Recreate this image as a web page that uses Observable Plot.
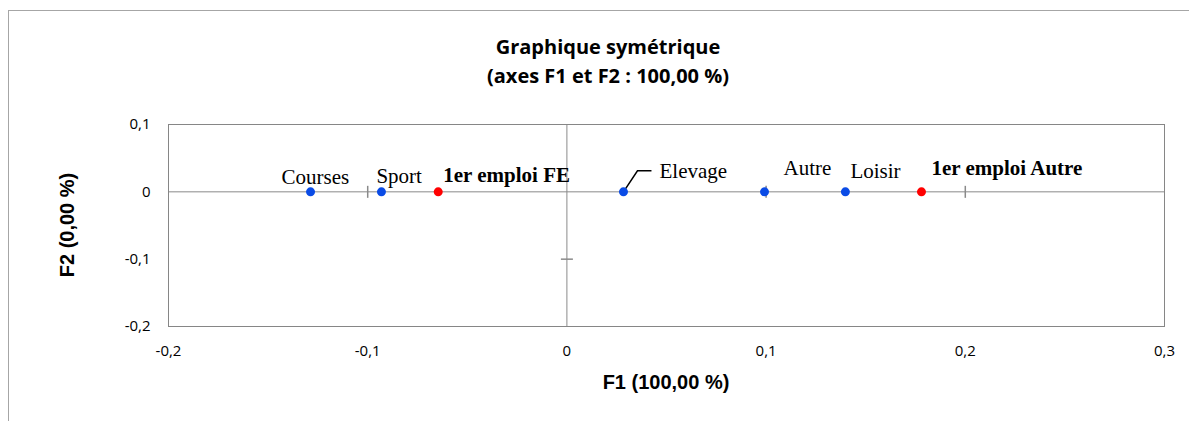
<!DOCTYPE html>
<html><head><meta charset="utf-8">
<script src="https://cdn.jsdelivr.net/npm/d3@7"></script>
<script src="https://cdn.jsdelivr.net/npm/@observablehq/plot@0.6"></script>
<style>
body{margin:0;background:#fff;}
#wrap{position:relative;width:1189px;height:421px;overflow:hidden;background:#fff;}
#outer{position:absolute;left:8px;top:10px;width:1300px;height:500px;border:1px solid #a6a6a6;}
#title{position:absolute;left:0;width:1216px;top:32px;text-align:center;font-family:"Open Sans",sans-serif;font-weight:bold;font-size:20px;line-height:29px;color:#000;}
#xlab{position:absolute;left:0;width:1332px;top:371px;text-align:center;font-family:"Liberation Sans",Arial,sans-serif;font-weight:bold;font-size:20px;color:#000;}
#ylab{position:absolute;left:67px;top:225px;transform:translate(-50%,-50%) rotate(-90deg);white-space:nowrap;font-family:"Liberation Sans",Arial,sans-serif;font-weight:bold;font-size:20px;color:#000;}
#chart{position:absolute;left:0;top:0;}
</style></head>
<body>
<div id="wrap">
  <div id="outer"></div>
  <div id="title">Graphique symétrique<br>(axes F1 et F2 : 100,00 %)</div>
  <div id="chart"></div>
  <div id="xlab">F1 (100,00 %)</div>
  <div id="ylab">F2 (0,00 %)</div>
</div>
<script>
// ---- data ----
const labels = ["Courses", "Sport", "1er emploi FE", "Elevage", "Autre", "Loisir", "1er emploi Autre"];
const f1 = [-0.1287, -0.0931, -0.0646, 0.0284, 0.0992, 0.1398, 0.1780];
const f2 = [0, 0, 0, 0, 0, 0, 0];
const kind = ["col", "col", "row", "col", "col", "col", "row"];
const xTicks = [-0.2, -0.1, 0, 0.1, 0.2, 0.3];
const yTicks = [-0.2, -0.1, 0, 0.1];
const xMinorOnAxis = [-0.1, 0.1, 0.2];
const yMinorOnAxis = [-0.1];

// ---- layout (pixel offsets for labels) ----
const labelOffset = {
  "Courses": [-29, -8],
  "Sport": [-5, -9],
  "1er emploi FE": [5, -10],
  "Elevage": [36, -14],
  "Autre": [19, -17],
  "Loisir": [5, -14],
  "1er emploi Autre": [10, -17]
};
const colors = {col: "#0a4be6", row: "#ff0000"};

const pts = labels.map((l, i) => ({label: l, x: f1[i], y: f2[i], kind: kind[i]}));
const fmt = d => String(d).replace(".", ",");
const grey = "#8a8a8a";

const vTick = {draw(ctx) { ctx.moveTo(0, -6); ctx.lineTo(0, 6); }};
const hTick = {draw(ctx) { ctx.moveTo(-6, 0); ctx.lineTo(6, 0); }};
const leader = {draw(ctx) { ctx.moveTo(0, 0); ctx.lineTo(14, -21); ctx.lineTo(28, -21); }};

const textMarks = pts.map(p => Plot.text([p], {
  x: "x", y: "y", text: "label",
  textAnchor: "start", lineAnchor: "bottom",
  dx: labelOffset[p.label][0], dy: labelOffset[p.label][1],
  fontFamily: "Liberation Serif, Times New Roman, serif",
  fontSize: 21,
  fontWeight: p.kind === "row" ? "bold" : "normal",
  fill: "#000"
}));

const plot = Plot.plot({
  width: 1189, height: 421,
  marginLeft: 168, marginRight: 25, marginTop: 124, marginBottom: 95,
  style: {fontFamily: "Open Sans, sans-serif", fontSize: "15px", color: "#000", background: "transparent", overflow: "visible"},
  x: {domain: [-0.2, 0.3], ticks: xTicks, tickFormat: fmt, tickSize: 0, tickPadding: 19, label: null},
  y: {domain: [-0.2, 0.1], ticks: yTicks, tickFormat: fmt, tickSize: 0, tickPadding: 18, label: null},
  marks: [
    Plot.ruleY([0], {stroke: grey}),
    Plot.ruleX([0], {stroke: grey}),
    Plot.dot(xMinorOnAxis, {x: d => d, y: 0, symbol: vTick, stroke: grey, fill: "none", r: 3}),
    Plot.dot(yMinorOnAxis, {x: 0, y: d => d, symbol: hTick, stroke: grey, fill: "none", r: 3}),
    Plot.frame({stroke: "#868686"}),
    Plot.dot(pts.filter(p => p.label === "Elevage"), {x: "x", y: "y", symbol: leader, stroke: "#000", fill: "none", r: 3}),
    Plot.dot(pts, {x: "x", y: "y", r: 4.5, fill: d => colors[d.kind], stroke: "none"}),
    ...textMarks
  ]
});
document.getElementById("chart").appendChild(plot);
</script>
</body></html>
